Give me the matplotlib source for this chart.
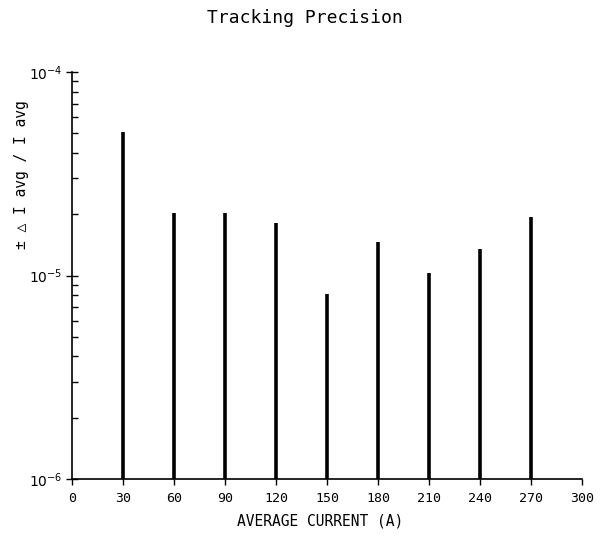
import matplotlib
matplotlib.use("Agg")
import matplotlib.pyplot as plt
from matplotlib.ticker import LogLocator, FixedLocator, NullFormatter

currents = [30, 60, 90, 120, 150, 180, 210, 240, 270]
precision = [5.07e-5, 2.03e-5, 2.03e-5, 1.81e-5, 8.1e-6, 1.46e-5, 1.03e-5, 1.35e-5, 1.94e-5]
xticks = [0, 30, 60, 90, 120, 150, 180, 210, 240, 270, 300]
yticks = [1e-6, 1e-5, 1e-4]
ytick_labels = [r"$10^{-6}$", r"$10^{-5}$", r"$10^{-4}$"]

plt.rcParams['font.family'] = ['DejaVu Sans Mono']
plt.rcParams['mathtext.fontset'] = 'dejavusans'

W, H = 607, 537
fig = plt.figure(figsize=(6.07, 5.37), dpi=100)
ax = fig.add_axes([72 / W, 1 - 479 / H, 510 / W, 407 / H])

ax.vlines(currents, 1e-6, precision, colors='black', linewidth=2.6)

ax.set_yscale('log')
ax.set_ylim(1e-6, 1e-4)
ax.set_xlim(0, 300)

ax.set_xticks(xticks)
ax.set_xticklabels([str(t) for t in xticks], fontsize=9.5)
ax.yaxis.set_major_locator(FixedLocator(yticks))
ax.set_yticklabels(ytick_labels, fontsize=10)
ax.yaxis.set_minor_locator(LogLocator(base=10, subs=range(2, 10)))
ax.yaxis.set_minor_formatter(NullFormatter())

ax.tick_params(axis='x', direction='out', length=4, width=1, pad=5)
ax.tick_params(axis='y', which='major', direction='inout', length=8, width=1, pad=3)
ax.tick_params(axis='y', which='minor', direction='in', length=4, width=1)

for s in ['top', 'right']:
    ax.spines[s].set_visible(False)
for s in ['left', 'bottom']:
    ax.spines[s].set_linewidth(1.2)

fig.text(305 / W, 1 - 18 / H, "Tracking Precision", fontsize=13,
         ha='center', va='center')
fig.text(320 / W, 1 - 521 / H, "AVERAGE CURRENT (A)", fontsize=10.5,
         ha='center', va='center')
fig.text(22 / W, 1 - 175 / H, "± △ I avg / I avg", fontsize=10.5,
         ha='center', va='center', rotation=90)

fig.savefig("out.png", dpi=100)
